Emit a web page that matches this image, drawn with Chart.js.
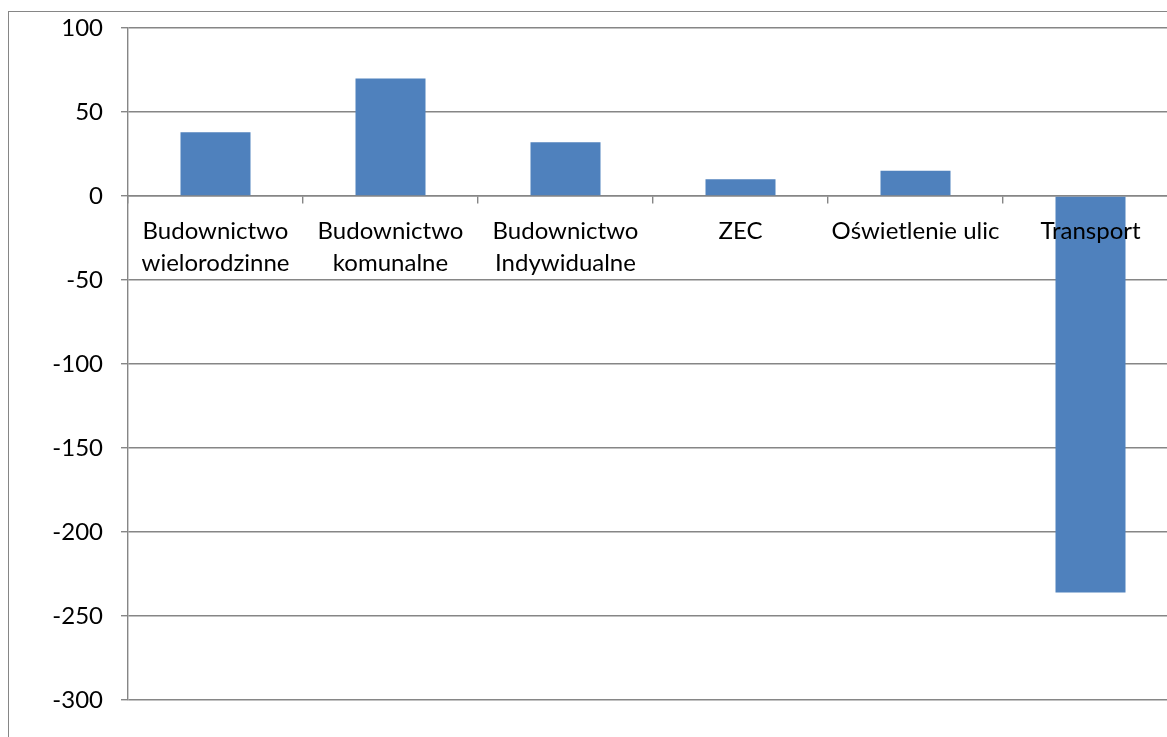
<!DOCTYPE html>
<html>
<head>
<meta charset="utf-8">
<script src="https://cdn.jsdelivr.net/npm/chart.js@4/dist/chart.umd.min.js"></script>
<style>
  html, body { margin: 0; padding: 0; background: #fff; overflow: hidden; width: 1167px; height: 737px; }
  #frame { position: absolute; left: 8px; top: 11px; width: 1300px; height: 900px; border: 1.5px solid #868686; box-sizing: border-box; }
  #wrap { position: absolute; left: 0; top: 0; width: 1190px; height: 737px; }
</style>
</head>
<body>
<div id="frame"></div>
<div id="wrap"><canvas id="c" width="1190" height="737"></canvas></div>
<script>
// Sectors and their values
const categories = [
  ['Budownictwo', 'wielorodzinne'],
  ['Budownictwo', 'komunalne'],
  ['Budownictwo', 'Indywidualne'],
  'ZEC',
  'Oświetlenie ulic',
  'Transport'
];
const values = [38, 70, 32, 10, 15, -236];

// Value axis
const yMin = -300;
const yMax = 100;
const yStep = 50;

const gridColor = '#868686';
const gridWidth = 1.4;

new Chart(document.getElementById('c'), {
  type: 'bar',
  data: {
    labels: categories,
    datasets: [{
      data: values,
      backgroundColor: '#4F81BD',
      borderWidth: 0,
      categoryPercentage: 1.0,
      barPercentage: 0.4
    }]
  },
  options: {
    responsive: false,
    animation: false,
    layout: { padding: { left: 0, top: 28, right: 12, bottom: 37 } },
    plugins: { legend: { display: false }, tooltip: { enabled: false } },
    scales: {
      x: {
        // category labels sit next to the zero line and above the bars
        position: { y: 0 },
        grid: { display: true, drawOnChartArea: false, drawTicks: true, tickLength: 7, color: gridColor, lineWidth: gridWidth, offset: true },
        border: { display: true, color: gridColor, width: gridWidth },
        ticks: { z: 1, color: '#000', font: { family: 'Lato', size: 24, lineHeight: 1.3 }, padding: 13, maxRotation: 0, autoSkip: false }
      },
      y: {
        min: yMin,
        max: yMax,
        afterFit: (s) => { s.width = 128; s.paddingTop = 0; s.paddingBottom = 0; },
        grid: { color: gridColor, tickLength: 7, lineWidth: gridWidth },
        border: { display: true, color: gridColor, width: gridWidth },
        ticks: { stepSize: yStep, color: '#000', font: { family: 'Lato', size: 24 }, padding: 18 }
      }
    }
  }
});
</script>
</body>
</html>
